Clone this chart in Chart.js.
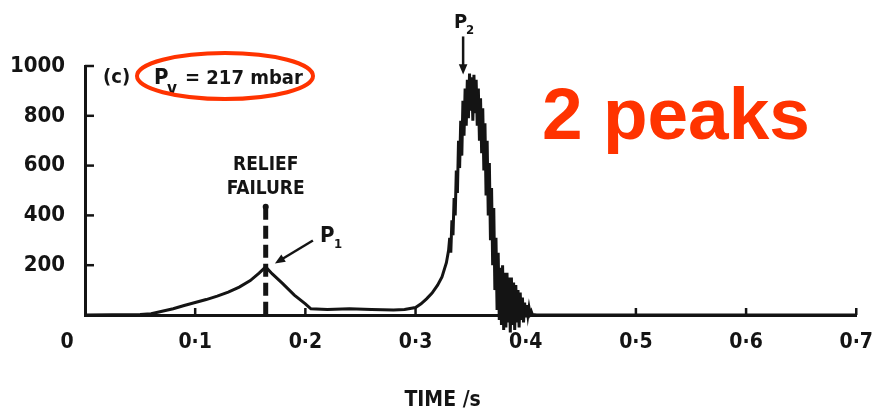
<!DOCTYPE html>
<html>
<head>
<meta charset="utf-8">
<script src="https://cdn.jsdelivr.net/npm/chart.js@4"></script>
<style>
  html, body { margin: 0; padding: 0; background: #fff; }
  #wrap { width: 880px; height: 413px; position: relative; }
</style>
</head>
<body>
<div id="wrap"><canvas id="c" width="880" height="413"></canvas></div>
<script>
// Vent pressure trace, run (c): relief failure followed by the main explosion peak.
const timeS = [
  0, 0.05, 0.06, 0.07, 0.08, 0.09, 0.10, 0.11, 0.12, 0.13, 0.14, 0.15, 0.158, 0.164,
  0.170, 0.179, 0.190, 0.200, 0.205, 0.22, 0.24, 0.26, 0.28, 0.29, 0.300, 0.305, 0.310,
  0.315, 0.320, 0.324, 0.328, 0.330,
  0.331, 0.332, 0.333, 0.334, 0.335, 0.336, 0.337, 0.338, 0.339, 0.340,
  0.341, 0.342, 0.343, 0.344, 0.345, 0.346, 0.347, 0.348, 0.349, 0.350,
  0.351, 0.352, 0.353, 0.354, 0.355, 0.356, 0.357, 0.358, 0.359, 0.360,
  0.361, 0.362, 0.363, 0.364, 0.365, 0.366, 0.367, 0.368, 0.369, 0.370,
  0.371, 0.372, 0.373, 0.374, 0.375, 0.376, 0.377, 0.378, 0.379, 0.380,
  0.381, 0.382, 0.383, 0.384, 0.385, 0.386, 0.387, 0.388, 0.389, 0.390,
  0.391, 0.392, 0.393, 0.394, 0.395, 0.396, 0.397, 0.398, 0.399, 0.400,
  0.401, 0.402, 0.403, 0.404, 0.405, 0.406, 0.410, 0.70
];
const pressureMbar = [
  0, 2, 5, 15, 25, 38, 50, 62, 76, 92, 112, 138, 168, 193,
  165, 128, 80, 45, 25, 22, 25, 22, 20, 22, 30, 45, 65,
  88, 120, 153, 210, 260,
  310, 250, 380, 320, 470, 400, 580, 490, 700, 590,
  780, 640, 860, 720, 910, 760, 945, 790, 970, 820,
  955, 780, 965, 810, 945, 760, 910, 700, 870, 650,
  830, 580, 770, 480, 700, 400, 610, 300, 510, 200,
  430, 100, 310, 20, 250, -20, 190, -40, 200, -60,
  170, -50, 170, -30, 150, -70, 150, -40, 130, -60,
  120, -30, 100, -50, 90, -20, 70, -30, 50, -10,
  40, 0, 30, 5, 15, 2, 0, 0
];

const xTicks = [0, 0.1, 0.2, 0.3, 0.4, 0.5, 0.6, 0.7];
const yTicks = [0, 200, 400, 600, 800, 1000];

const reliefTime = 0.164;
const reliefTop = 435;
const p1Peak = { x: 0.166, y: 195 };
const p2Peak = { x: 0.345, y: 950 };

const INK = "#141414";
const RED = "#ff3300";
const FONT = "'DejaVu Sans Condensed', 'DejaVu Sans', sans-serif";

function arrow(ctx, x1, y1, x2, y2, head) {
  const a = Math.atan2(y2 - y1, x2 - x1);
  ctx.beginPath();
  ctx.moveTo(x1, y1);
  ctx.lineTo(x2 - Math.cos(a) * head * 0.6, y2 - Math.sin(a) * head * 0.6);
  ctx.stroke();
  ctx.beginPath();
  ctx.moveTo(x2, y2);
  ctx.lineTo(x2 - head * Math.cos(a - 0.4), y2 - head * Math.sin(a - 0.4));
  ctx.lineTo(x2 - head * Math.cos(a + 0.4), y2 - head * Math.sin(a + 0.4));
  ctx.closePath();
  ctx.fill();
}

// inward tick marks on both axes
const innerTicks = {
  id: "innerTicks",
  afterDraw(chart) {
    const { ctx, chartArea, scales: { x, y } } = chart;
    ctx.save();
    ctx.strokeStyle = INK;
    ctx.lineWidth = 2.5;
    yTicks.slice(1).forEach((v) => {
      const py = y.getPixelForValue(v);
      ctx.beginPath(); ctx.moveTo(chartArea.left, py); ctx.lineTo(chartArea.left + 9, py); ctx.stroke();
    });
    xTicks.slice(1).forEach((v) => {
      const px = x.getPixelForValue(v);
      ctx.beginPath(); ctx.moveTo(px, chartArea.bottom); ctx.lineTo(px, chartArea.bottom - 7); ctx.stroke();
    });
    ctx.restore();
  },
};

// labels, arrows and the highlighted run pressure
const notes = {
  id: "notes",
  afterDraw(chart) {
    const { ctx, chartArea, scales: { x, y } } = chart;
    ctx.save();
    ctx.fillStyle = INK;
    ctx.strokeStyle = INK;
    ctx.textBaseline = "alphabetic";

    // shared origin label and axis title
    ctx.textAlign = "center";
    ctx.font = `bold 21px ${FONT}`;
    ctx.fillText("0", chartArea.left - 18, chartArea.bottom + 33);
    ctx.fillText("TIME /s", (chartArea.left + chartArea.right) / 2 - 28, 406);

    // run header
    ctx.textAlign = "left";
    ctx.font = `bold 20px ${FONT}`;
    ctx.fillText("(c)", 103, 83);
    ctx.font = `bold 22px ${FONT}`;
    ctx.fillText("P", 154, 84);
    ctx.font = `bold 17px ${FONT}`;
    ctx.fillText("v", 167, 94);
    ctx.font = `bold 20px ${FONT}`;
    ctx.fillText("= 217 mbar", 185, 84);
    ctx.strokeStyle = RED;
    ctx.lineWidth = 4;
    ctx.beginPath();
    ctx.ellipse(225, 76, 88, 23, 0, 0, Math.PI * 2);
    ctx.stroke();
    ctx.strokeStyle = INK;

    // relief failure label
    const rx = x.getPixelForValue(reliefTime);
    ctx.textAlign = "center";
    ctx.font = `bold 19px ${FONT}`;
    ctx.fillText("RELIEF", rx, 170);
    ctx.fillText("FAILURE", rx, 194);

    // P1
    ctx.lineWidth = 2.5;
    const p1x = x.getPixelForValue(p1Peak.x), p1y = y.getPixelForValue(p1Peak.y);
    arrow(ctx, p1x + 45, p1y - 26, p1x + 7, p1y - 3, 11);
    ctx.textAlign = "left";
    ctx.font = `bold 22px ${FONT}`;
    ctx.fillText("P", p1x + 52, p1y - 24);
    ctx.font = `bold 13px ${FONT}`;
    ctx.fillText("1", p1x + 66, p1y - 18);

    // P2
    const p2x = x.getPixelForValue(p2Peak.x), p2y = y.getPixelForValue(p2Peak.y);
    arrow(ctx, p2x - 2, p2y - 42, p2x - 2, p2y - 4, 11);
    ctx.font = `bold 20px ${FONT}`;
    ctx.fillText("P", p2x - 11, p2y - 50);
    ctx.font = `bold 13px ${FONT}`;
    ctx.fillText("2", p2x + 1, p2y - 44);

    // callout
    ctx.fillStyle = RED;
    ctx.font = "bold 73px 'Liberation Sans', Arial, sans-serif";
    ctx.fillText("2 peaks", 542, 139);
    ctx.restore();
  },
};

new Chart(document.getElementById("c"), {
  type: "line",
  data: {
    datasets: [
      {
        data: timeS.map((t, i) => ({ x: t, y: pressureMbar[i] })),
        borderColor: INK, borderWidth: 3, pointRadius: 0, tension: 0, clip: false,
      },
      {
        data: [{ x: reliefTime, y: reliefTop }, { x: reliefTime, y: 0 }],
        borderColor: INK, borderWidth: 5, borderDash: [13, 6], pointRadius: [3, 0],
        pointBackgroundColor: INK, pointBorderWidth: 0, clip: false,
      },
    ],
  },
  options: {
    responsive: false,
    animation: false,
    events: [],
    layout: { padding: { top: 66, right: 20, left: 0, bottom: 0 } },
    plugins: { legend: { display: false }, tooltip: { enabled: false } },
    scales: {
      x: {
        type: "linear", min: 0, max: 0.7,
        afterFit: (s) => { s.height = 98; },
        afterBuildTicks: (s) => { s.ticks = xTicks.map((v) => ({ value: v })); },
        grid: { display: false },
        border: { display: true, color: INK, width: 3 },
        ticks: {
          padding: 7, color: INK, font: { family: FONT, size: 21, weight: "bold" },
          callback: (v) => (v === 0 ? "" : v.toFixed(1).replace(".", "·")),
        },
      },
      y: {
        min: 0, max: 1000,
        afterFit: (s) => { s.width = 85; },
        afterBuildTicks: (s) => { s.ticks = yTicks.map((v) => ({ value: v })); },
        grid: { display: false },
        border: { display: true, color: INK, width: 3 },
        ticks: {
          padding: 12, color: INK, font: { family: FONT, size: 22, weight: "bold" },
          callback: (v) => (v === 0 ? "" : String(v)),
        },
      },
    },
  },
  plugins: [innerTicks, notes],
});
</script>
</body>
</html>
